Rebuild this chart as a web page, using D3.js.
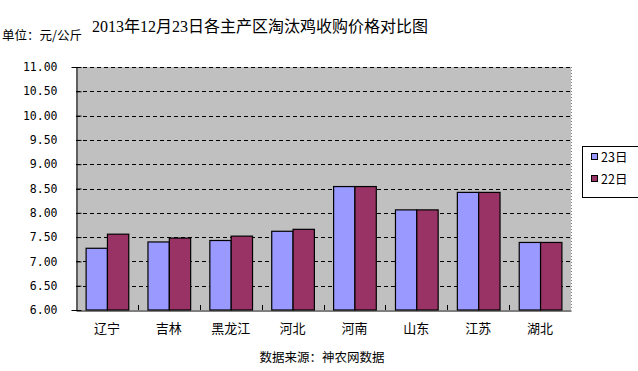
<!DOCTYPE html>
<html><head><meta charset="utf-8">
<script src="https://cdn.jsdelivr.net/npm/d3@7"></script>
<style>body{margin:0;background:#fff}svg{display:block}</style>
</head><body>
<svg id="c" width="638" height="371"></svg>
<script>
const categories = ["辽宁","吉林","黑龙江","河北","河南","山东","江苏","湖北"];
const series23 = [7.27,7.40,7.43,7.62,8.54,8.06,8.42,7.39];
const series22 = [7.56,7.48,7.52,7.66,8.54,8.06,8.42,7.39];
const seriesNames = ["23日","22日"];
const yTicks = [6,6.5,7,7.5,8,8.5,9,9.5,10,10.5,11];

const svg = d3.select("#c");
const L=76,R=571,T=67,B=310;
const cjk = "'Noto Sans CJK SC', sans-serif";
const x = d3.scaleBand().domain(categories).range([L,R]).paddingInner(0).paddingOuter(0);
const xs = d3.scaleBand().domain(seriesNames).range([0,x.bandwidth()]).paddingInner(0).paddingOuter(0.45);
const y = d3.scaleLinear().domain([6,11]).range([B,T]);
const colors = {"23日":"#9999FF","22日":"#993366"};

svg.append("rect").attr("x",L).attr("y",T).attr("width",R-L).attr("height",B-T).attr("fill","#C0C0C0");
svg.append("line").attr("x1",R+0.5).attr("x2",R+0.5).attr("y1",T).attr("y2",B).attr("stroke","#808080").attr("stroke-dasharray","1,2");

// grid
svg.append("g").selectAll("line").data(yTicks.slice(1)).join("line")
  .attr("x1",L).attr("x2",R).attr("y1",d=>Math.round(y(d))+0.5).attr("y2",d=>Math.round(y(d))+0.5)
  .attr("stroke","#000").attr("stroke-dasharray","4,3");

// y axis
const ya = svg.append("g").attr("transform",`translate(${L+0.5},0)`)
  .call(d3.axisLeft(y).tickValues(yTicks).tickFormat(d3.format(".2f")).tickSize(5).tickPadding(14));
ya.select(".domain").attr("stroke","#000");
ya.selectAll("text").attr("font-family","'DejaVu Sans Mono', monospace").attr("font-size","11.5px").attr("fill","#000");
ya.selectAll("line").attr("stroke","#000").attr("transform","translate(5,0)");

// bars
const data = categories.map((c,i)=>({c,vals:[{s:"23日",v:series23[i]},{s:"22日",v:series22[i]}]}));
const g = svg.append("g").selectAll("g").data(data).join("g").attr("transform",d=>`translate(${x(d.c)},0)`);
g.selectAll("rect").data(d=>d.vals).join("rect")
  .attr("x",d=>xs(d.s)+0.5).attr("width",xs.bandwidth())
  .attr("y",d=>y(d.v)).attr("height",d=>B-y(d.v))
  .attr("fill",d=>colors[d.s]).attr("stroke","#000").attr("stroke-width",1.2);

// x axis
const xa = svg.append("g").attr("transform",`translate(0,${B+0.5})`)
  .call(d3.axisBottom(x).tickSize(0).tickPadding(13));
xa.select(".domain").attr("stroke","#000").attr("stroke-width",1.2);
xa.selectAll("text").attr("font-family",cjk).attr("font-size","13px").attr("fill","#000");
svg.append("g").selectAll("line").data(categories.slice(1)).join("line")
  .attr("x1",d=>Math.round(x(d))+0.5).attr("x2",d=>Math.round(x(d))+0.5).attr("y1",B-5).attr("y2",B).attr("stroke","#000");

// title
svg.append("text").attr("x",260).attr("y",32).attr("text-anchor","middle")
  .attr("font-family","'Liberation Serif', 'Noto Sans CJK SC', serif").attr("font-size","16px")
  .text("2013年12月23日各主产区淘汰鸡收购价格对比图");
svg.append("text").attr("x",2).attr("y",40).attr("font-family",cjk).attr("font-size","12.5px").text("单位：元/公斤");
svg.append("text").attr("x",322).attr("y",362).attr("text-anchor","middle").attr("font-family",cjk).attr("font-size","12.5px").text("数据来源：神农网数据");

// legend
const lg = svg.append("g");
lg.append("rect").attr("x",582.5).attr("y",146.5).attr("width",57).attr("height",51).attr("fill","#fff").attr("stroke","#000");
seriesNames.forEach((s,i)=>{
  lg.append("rect").attr("x",591.5).attr("y",153.5+i*22).attr("width",6).attr("height",6).attr("fill",colors[s]).attr("stroke","#000");
  lg.append("text").attr("x",601).attr("y",162+i*22).attr("font-family",cjk).attr("font-size","12.5px").text(s);
});
</script>
</body></html>
